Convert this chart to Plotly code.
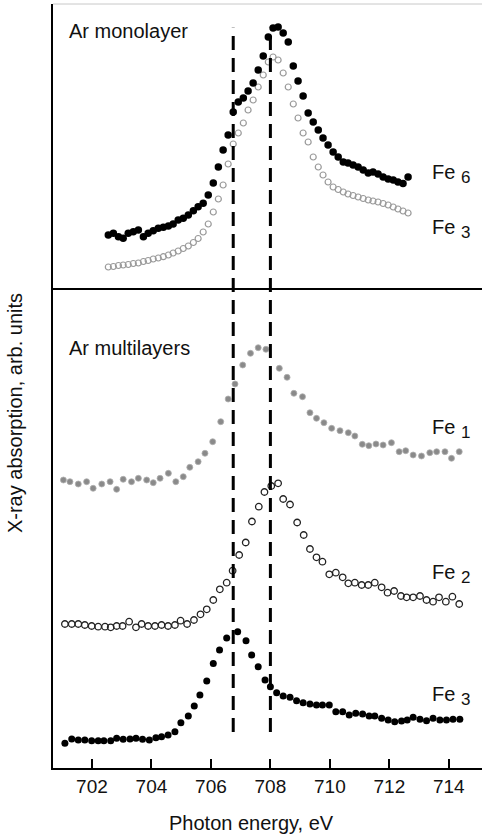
import plotly.graph_objects as go
from plotly.subplots import make_subplots

# ---- data (arbitrary units) ----
# Ar monolayer panel
top_energy = [702.55, 702.72, 702.89, 703.05, 703.22, 703.39, 703.56, 703.73, 703.89, 704.06,
              704.23, 704.40, 704.57, 704.73, 704.90, 705.07, 705.24, 705.41, 705.57, 705.74,
              705.91, 706.08, 706.25, 706.41, 706.58, 706.75, 706.92, 707.09, 707.25, 707.42,
              707.59, 707.76, 707.93, 708.09, 708.26, 708.43, 708.60, 708.77, 708.93, 709.10,
              709.27, 709.44, 709.61, 709.77, 709.94, 710.11, 710.28, 710.45, 710.61, 710.78,
              710.95, 711.12, 711.29, 711.45, 711.62, 711.79, 711.96, 712.13, 712.29, 712.46,
              712.63]
fe6_mono = [5.3, 5.47, 5.13, 4.97, 5.47, 5.63, 5.8, 5.13, 5.47, 5.73,
            5.97, 6.07, 6.2, 6.4, 6.8, 6.97, 7.3, 7.73, 8.13, 8.47,
            9.3, 10.5, 12.1, 13.8, 15.3, 17.6, 18.6, 19.0, 19.7, 20.5,
            21.8, 23.2, 25.1, 26.0, 26.1, 25.5, 24.6, 22.2, 20.7, 19.2,
            17.5, 16.6, 15.8, 15.0, 14.3, 13.6, 13.1, 12.6, 12.5, 12.3,
            12.1, 11.8, 11.5, 11.6, 11.4, 11.1, 10.9, 10.8, 10.6, 10.45,
            11.1]
fe3_mono = [2.1, 2.15, 2.25, 2.3, 2.35, 2.45, 2.5, 2.65, 2.75, 2.9,
            3.0, 3.13, 3.3, 3.5, 3.7, 3.95, 4.2, 4.55, 4.95, 5.6,
            6.4, 7.6, 8.9, 10.3, 12.4, 14.4, 15.5, 16.5, 17.8, 18.8,
            20.1, 21.3, 22.6, 23.1, 22.8, 21.5, 20.1, 18.4, 17.0, 15.5,
            14.6, 13.1, 12.1, 11.3, 10.6, 10.1, 9.85, 9.6, 9.4, 9.25,
            9.1, 8.95, 8.8, 8.7, 8.6, 8.45, 8.3, 8.1, 7.9, 7.7,
            7.5]

# Ar multilayers panel
fe1_energy = [701.04, 701.26, 701.54, 701.82, 702.04, 702.33, 702.61, 702.83, 703.05, 703.33,
              703.56, 703.84, 704.06, 704.29, 704.57, 704.82, 705.07, 705.29, 705.57, 705.80,
              706.06, 706.33, 706.58, 706.81, 707.07, 707.33, 707.59, 707.85, 708.30, 708.56,
              708.79, 709.08, 709.33, 709.55, 709.80, 710.06, 710.34, 710.62, 710.84, 711.09,
              711.31, 711.55, 711.79, 712.07, 712.33, 712.55, 712.80, 713.08, 713.36, 713.59,
              713.87, 714.09, 714.35]
fe1_multi = [28.8, 28.63, 28.4, 28.63, 27.97, 28.4, 28.63, 27.87, 28.87, 28.63,
             28.97, 28.8, 28.53, 28.97, 29.47, 28.63, 29.13, 30.07, 30.63, 31.47,
             32.63, 34.63, 36.9, 38.4, 40.3, 41.47, 42.03, 41.87, 39.97, 39.07,
             37.47, 37.13, 35.53, 34.97, 34.53, 33.97, 33.73, 33.53, 33.2, 32.37,
             32.23, 32.4, 32.3, 32.53, 31.63, 31.73, 31.3, 31.2, 31.53, 31.63,
             31.63, 30.97, 31.63]

fe2_energy = [701.09, 701.32, 701.54, 701.76, 701.99, 702.21, 702.44, 702.63, 702.83, 703.03,
              703.25, 703.48, 703.67, 703.89, 704.12, 704.34, 704.56, 704.79, 704.98, 705.20,
              705.43, 705.65, 705.86, 706.08, 706.30, 706.53, 706.73, 706.95, 707.17, 707.38,
              707.61, 707.80, 708.03, 708.26, 708.43, 708.66, 708.90, 709.12, 709.33, 709.55,
              709.75, 709.98, 710.20, 710.43, 710.62, 710.84, 711.07, 711.29, 711.51, 711.74,
              711.94, 712.16, 712.39, 712.58, 712.80, 713.03, 713.25, 713.47, 713.67, 713.90,
              714.12, 714.35]
fe2_multi = [14.4, 14.4, 14.4, 14.3, 14.2, 14.13, 14.13, 14.07, 14.2, 14.2,
             14.63, 14.07, 14.4, 14.2, 14.2, 14.3, 14.2, 14.3, 14.73, 14.4,
             14.8, 15.37, 15.87, 16.8, 17.87, 18.53, 19.73, 21.3, 22.55, 24.65,
             26.13, 27.6, 28.2, 28.47, 26.9, 26.35, 24.55, 23.3, 21.9, 21.07,
             20.63, 19.37, 19.53, 19.07, 18.47, 18.53, 18.3, 18.3, 18.53, 18.07,
             17.53, 17.7, 17.2, 17.07, 17.07, 17.2, 16.8, 16.63, 17.07, 16.63,
             17.13, 16.4]

fe3_energy = [701.09, 701.32, 701.54, 701.76, 701.99, 702.21, 702.40, 702.63, 702.83, 703.05,
              703.28, 703.48, 703.70, 703.93, 704.15, 704.34, 704.56, 704.79, 704.99, 705.24,
              705.44, 705.63, 705.86, 706.08, 706.29, 706.53, 706.90, 707.18, 707.37, 707.59,
              707.82, 708.00, 708.21, 708.43, 708.66, 708.88, 709.10, 709.33, 709.55, 709.75,
              709.98, 710.20, 710.43, 710.65, 710.87, 711.10, 711.32, 711.51, 711.74, 711.96,
              712.18, 712.41, 712.60, 712.80, 713.03, 713.25, 713.47, 713.70, 713.92, 714.14,
              714.37]
fe3_multi = [2.47, 2.9, 2.8, 2.8, 2.73, 2.73, 2.73, 2.73, 2.97, 2.87,
             2.9, 2.97, 2.87, 2.8, 3.03, 3.13, 3.3, 3.63, 4.53, 5.2,
             6.2, 7.3, 8.7, 10.45, 11.8, 13.0, 13.63, 12.73, 11.3, 10.13,
             8.8, 8.13, 7.53, 7.2, 7.07, 6.73, 6.53, 6.4, 6.3, 6.3,
             6.3, 5.63, 5.63, 5.3, 5.47, 5.4, 5.2, 5.2, 4.97, 4.8,
             4.63, 4.7, 4.8, 5.07, 4.87, 4.73, 4.97, 4.8, 4.8, 4.87,
             4.87]

edge_energies = [706.75, 708.0]
x_ticks = [702, 704, 706, 708, 710, 712, 714]

FONT = "Liberation Sans, Arial, sans-serif"
INK = "#111111"

fig = make_subplots(rows=2, cols=1, shared_xaxes=True,
                    vertical_spacing=0, row_heights=[284, 480])

fig.add_trace(go.Scatter(x=top_energy, y=fe3_mono, mode="markers",
                         marker=dict(symbol="circle-open", size=6, color="#9a9a9a",
                                     line=dict(width=1.2))), row=1, col=1)
fig.add_trace(go.Scatter(x=top_energy, y=fe6_mono, mode="markers",
                         marker=dict(size=7.5, color="#000000")), row=1, col=1)

fig.add_trace(go.Scatter(x=fe1_energy, y=fe1_multi, mode="markers",
                         marker=dict(size=6, color="#8a8a8a",
                                     line=dict(width=0.8, color="#b0b0b0"))), row=2, col=1)
fig.add_trace(go.Scatter(x=fe2_energy, y=fe2_multi, mode="markers",
                         marker=dict(symbol="circle-open", size=6.5, color="#222222",
                                     line=dict(width=1.3))), row=2, col=1)
fig.add_trace(go.Scatter(x=fe3_energy, y=fe3_multi, mode="markers",
                         marker=dict(size=7, color="#000000")), row=2, col=1)

# dashed reference lines through both panels
for e in edge_energies:
    fig.add_shape(type="line", xref="x2", yref="paper", x0=e, x1=e,
                  y0=0.047, y1=0.969,
                  line=dict(color="#000000", width=3, dash="14px,8px"))

# faint top border
fig.add_shape(type="line", xref="paper", yref="paper", x0=0, x1=1, y0=1, y1=1,
              line=dict(color="#c8c8c8", width=1))

# plot area runs off the right edge of the page, as in the scan
fig.update_xaxes(range=[700.69, 715.25], showgrid=False, zeroline=False,
                 showline=True, linecolor="#000000", linewidth=1.5)
fig.update_xaxes(ticks="", showticklabels=False, row=1, col=1)
fig.update_xaxes(tickvals=x_ticks, ticks="inside", ticklen=9, tickwidth=1.5,
                 tickcolor="#000000", tickfont=dict(family=FONT, size=19, color=INK),
                 row=2, col=1)
fig.update_yaxes(showgrid=False, zeroline=False, showticklabels=False, ticks="",
                 showline=True, linecolor="#000000", linewidth=1.5)
fig.update_yaxes(range=[0, 28.4], row=1, col=1)
fig.update_yaxes(range=[0, 48], row=2, col=1)


def fe_label(n):
    return 'Fe <sub><span style="font-size:17px">%s</span></sub>' % n


label_font = dict(family=FONT, size=20, color=INK)
annotations = [
    dict(text="Ar monolayer", x=701.16, y=25.7, xref="x", yref="y",
         xanchor="left", yanchor="middle", showarrow=False, font=label_font),
    dict(text="Ar multilayers", x=701.16, y=42.0, xref="x2", yref="y2",
         xanchor="left", yanchor="middle", showarrow=False, font=label_font),
    dict(text=fe_label(6), x=713.36, y=11.4, xref="x", yref="y",
         xanchor="left", yanchor="middle", showarrow=False, font=label_font),
    dict(text=fe_label(3), x=713.36, y=5.9, xref="x", yref="y",
         xanchor="left", yanchor="middle", showarrow=False, font=label_font),
    dict(text=fe_label(1), x=713.36, y=33.95, xref="x2", yref="y2",
         xanchor="left", yanchor="middle", showarrow=False, font=label_font),
    dict(text=fe_label(2), x=713.36, y=19.45, xref="x2", yref="y2",
         xanchor="left", yanchor="middle", showarrow=False, font=label_font),
    dict(text=fe_label(3), x=713.36, y=7.25, xref="x2", yref="y2",
         xanchor="left", yanchor="middle", showarrow=False, font=label_font),
    dict(text="Photon energy, eV", x=0.459, y=-0.072, xref="paper", yref="paper",
         xanchor="center", yanchor="middle", showarrow=False, font=label_font),
    dict(text="X-ray absorption, arb. units", x=-0.0875, y=0.4647, xref="paper",
         yref="paper", xanchor="center", yanchor="middle", textangle=-90,
         showarrow=False, font=label_font),
]

fig.update_layout(
    width=486, height=838,
    margin=dict(l=53, r=0, t=4, b=70),
    paper_bgcolor="white", plot_bgcolor="white",
    showlegend=False,
    annotations=annotations,
)

# drop the default page margin so the figure sits at the window's corner
fig.write_html("out.html", config={"displayModeBar": False},
               post_script="document.body.style.margin='0';document.body.style.overflow='hidden';")
